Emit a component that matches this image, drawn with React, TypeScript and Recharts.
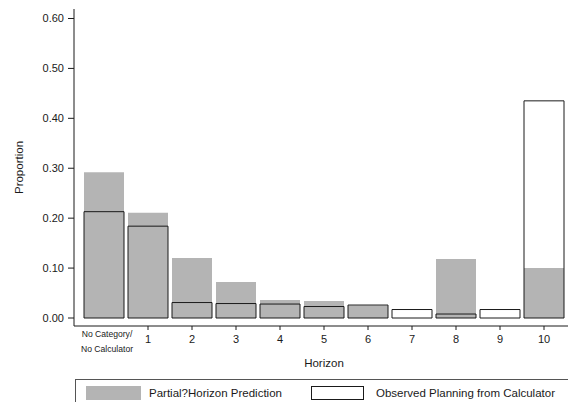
import { BarChart, Bar, XAxis, YAxis } from "recharts";

const categories = ["No Category/\nNo Calculator", "1", "2", "3", "4", "5", "6", "7", "8", "9", "10"];
const predicted = [0.292, 0.211, 0.12, 0.072, 0.036, 0.034, 0.025, 0, 0.118, 0, 0.1];
const observed = [0.213, 0.184, 0.031, 0.029, 0.028, 0.023, 0.026, 0.017, 0.008, 0.017, 0.435];
const yTicks = [0, 0.1, 0.2, 0.3, 0.4, 0.5, 0.6];
const seriesNames = ["Partial?Horizon Prediction", "Observed Planning from Calculator"];

const data = categories.map((cat, i) => ({ cat, pred: predicted[i], obs: observed[i] }));

const GRAY = "#b4b4b4";
const INK = "#1a1a1a";

function HorizonTick({ x, y, payload, index }: any) {
  const lines = String(payload.value).split("\n");
  if (lines.length > 1) {
    return (
      <g>
        {lines.map((t, i) => (
          <text key={i} x={x + 3} y={y + 7 + i * 15} textAnchor="middle" fontSize={8.6} fill={INK}>
            {t}
          </text>
        ))}
      </g>
    );
  }
  return (
    <g>
      {index > 0 && <line x1={x} x2={x} y1={y - 4} y2={y} stroke={INK} />}
      <text x={x} y={y + 13} textAnchor="middle" fontSize={11} fill={INK}>
        {payload.value}
      </text>
    </g>
  );
}

export default function App() {
  return (
    <div
      style={{
        position: "absolute",
        left: 0,
        top: 0,
        width: 568,
        height: 402,
        overflow: "hidden",
        background: "#fff",
        fontFamily: "'Liberation Sans', Arial, sans-serif",
      }}
    >
      <BarChart
        width={568}
        height={402}
        data={data}
        margin={{ top: 9, right: 0, left: 0, bottom: 36 }}
        barSize={40}
        barGap={-40}
      >
        <XAxis
          dataKey="cat"
          height={40}
          padding={{ left: 8, right: 2 }}
          axisLine={{ stroke: INK }}
          tickLine={false}
          tickSize={4}
          tickMargin={0}
          interval={0}
          tick={<HorizonTick />}
          label={{ value: "Horizon", position: "insideBottom", offset: -1, dx: 3, fontSize: 11.5, fill: INK }}
        />
        <YAxis
          type="number"
          width={74}
          domain={[-0.016, 0.619]}
          ticks={yTicks}
          tickFormatter={(v: number) => v.toFixed(2)}
          axisLine={{ stroke: INK }}
          tickLine={{ stroke: INK }}
          tickSize={6}
          tickMargin={4}
          tick={{ fontSize: 11, fill: INK }}
          label={{
            value: "Proportion",
            angle: -90,
            position: "insideLeft",
            offset: 19,
            fontSize: 11.5,
            fill: INK,
            style: { textAnchor: "middle" },
          }}
        />
        <Bar dataKey="pred" fill={GRAY} isAnimationActive={false} />
        <Bar dataKey="obs" fill="none" stroke={INK} strokeWidth={1} isAnimationActive={false} />
      </BarChart>
      <div
        style={{
          position: "absolute",
          left: 75,
          top: 379,
          width: 520,
          height: 40,
          border: "1px solid #555",
          boxSizing: "border-box",
          fontSize: 11.5,
          color: INK,
        }}
      >
        <div style={{ position: "absolute", left: 10, top: 6, width: 55, height: 14, background: GRAY }} />
        <div style={{ position: "absolute", left: 73, top: 6, lineHeight: "14px", whiteSpace: "nowrap" }}>
          {seriesNames[0]}
        </div>
        <div
          style={{
            position: "absolute",
            left: 235,
            top: 6,
            width: 51,
            height: 12,
            border: `1px solid ${INK}`,
            background: "#fff",
          }}
        />
        <div style={{ position: "absolute", left: 300, top: 6, lineHeight: "14px", whiteSpace: "nowrap" }}>
          {seriesNames[1]}
        </div>
      </div>
    </div>
  );
}
